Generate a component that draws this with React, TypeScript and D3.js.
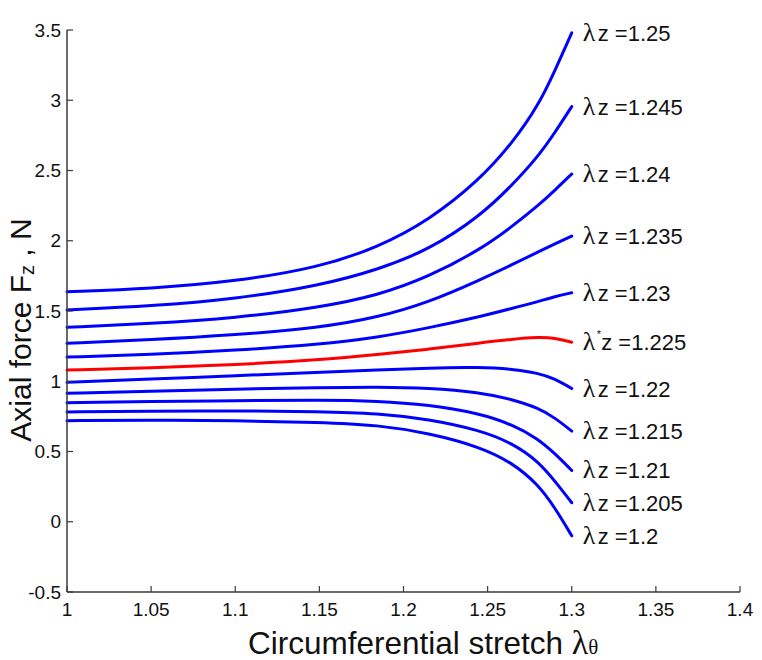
import React from "react";
import * as d3 from "d3";

// Circumferential stretch sample positions
const stretch = [1, 1.05, 1.1, 1.15, 1.185, 1.215, 1.245, 1.265, 1.28, 1.29, 1.3];

// Axial force (N) for each axial stretch
const force1250 = [1.637, 1.66, 1.71, 1.81, 1.955, 2.145, 2.43, 2.7, 2.96, 3.21, 3.48];
const force1245 = [1.507, 1.535, 1.585, 1.68, 1.795, 1.935, 2.17, 2.4, 2.6, 2.77, 2.955];
const force1240 = [1.384, 1.41, 1.45, 1.525, 1.612, 1.744, 1.932, 2.105, 2.25, 2.36, 2.475];
const force1235 = [1.27, 1.295, 1.33, 1.38, 1.455, 1.562, 1.718, 1.832, 1.92, 1.978, 2.033];
const force1230 = [1.172, 1.19, 1.22, 1.262, 1.313, 1.38, 1.458, 1.52, 1.567, 1.603, 1.63];
const force1225 = [1.08, 1.095, 1.118, 1.152, 1.19, 1.228, 1.272, 1.3, 1.314, 1.308, 1.278];
const force1220 = [0.992, 1.015, 1.04, 1.063, 1.08, 1.095, 1.1, 1.087, 1.058, 1.018, 0.948];
const force1215 = [0.914, 0.93, 0.944, 0.955, 0.96, 0.952, 0.922, 0.87, 0.81, 0.74, 0.645];
const force1210 = [0.847, 0.856, 0.862, 0.866, 0.86, 0.832, 0.772, 0.69, 0.59, 0.485, 0.365];
const force1205 = [0.781, 0.788, 0.79, 0.785, 0.772, 0.73, 0.653, 0.558, 0.43, 0.29, 0.135];
const force1200 = [0.719, 0.724, 0.72, 0.708, 0.689, 0.63, 0.535, 0.418, 0.265, 0.1, -0.1];

const lambdaZ = ["1.25", "1.245", "1.24", "1.235", "1.23", "1.225", "1.22", "1.215", "1.21", "1.205", "1.2"];
const seriesForces = [force1250, force1245, force1240, force1235, force1230, force1225, force1220, force1215, force1210, force1205, force1200];
const criticalIndex = 5;

const xTicks = [1, 1.05, 1.1, 1.15, 1.2, 1.25, 1.3, 1.35, 1.4];
const xTickLabels = ["1", "1.05", "1.1", "1.15", "1.2", "1.25", "1.3", "1.35", "1.4"];
const yTicks = [-0.5, 0, 0.5, 1, 1.5, 2, 2.5, 3, 3.5];
const yTickLabels = ["-0.5", "0", "0.5", "1", "1.5", "2", "2.5", "3", "3.5"];

const W = 762;
const H = 660;
const left = 67;
const right = 740;
const top = 30;
const bottom = 592;

const sans = "'Liberation Sans', Arial, sans-serif";
const serif = "'Liberation Serif', 'Times New Roman', serif";
const axisColor = "#3a3a3a";

export default function App() {
  const x = d3.scaleLinear().domain([1, 1.4]).range([left, right]);
  const y = d3.scaleLinear().domain([-0.5, 3.5]).range([bottom, top]);
  const line = d3
    .line<number>()
    .x((_, i) => x(stretch[i]))
    .y((d) => y(d))
    .curve(d3.curveBasis);

  return (
    <svg
      width={W}
      height={H}
      style={{ position: "absolute", left: 0, top: 0, background: "#fff" }}
    >
      {/* curves */}
      {seriesForces.map((f, i) => (
        <path
          key={lambdaZ[i]}
          d={line(f) || ""}
          fill="none"
          stroke={i === criticalIndex ? "#ff0000" : "#0000ff"}
          strokeWidth={3}
          strokeLinecap="round"
        />
      ))}

      {/* axes */}
      <line x1={left} y1={top} x2={left} y2={bottom} stroke={axisColor} strokeWidth={1.5} />
      <line x1={left} y1={bottom} x2={right} y2={bottom} stroke={axisColor} strokeWidth={1.5} />
      {yTicks.map((t, i) => (
        <g key={"y" + t}>
          <line x1={left} x2={left + 6} y1={y(t)} y2={y(t)} stroke={axisColor} strokeWidth={1.2} />
          <text
            x={left - 6}
            y={y(t)}
            textAnchor="end"
            dominantBaseline="central"
            fontFamily={sans}
            fontSize={19}
            fill="#111"
          >
            {yTickLabels[i]}
          </text>
        </g>
      ))}
      {xTicks.map((t, i) => (
        <g key={"x" + t}>
          <line x1={x(t)} x2={x(t)} y1={bottom} y2={bottom - 6} stroke={axisColor} strokeWidth={1.2} />
          <text
            x={x(t)}
            y={bottom + 24}
            textAnchor="middle"
            fontFamily={sans}
            fontSize={19}
            fill="#111"
          >
            {xTickLabels[i]}
          </text>
        </g>
      ))}

      {/* axis labels */}
      <text
        x={248}
        y={654}
        textAnchor="start"
        fontFamily={sans}
        fontSize={31.5}
        fill="#111"
      >
        Circumferential stretch{" "}
        <tspan fontFamily={serif} fontSize={34}>λ</tspan>
        <tspan fontFamily={serif} fontSize={21}>θ</tspan>
      </text>
      <text
        transform={`translate(31, 330) rotate(-90)`}
        textAnchor="middle"
        fontFamily={sans}
        fontSize={30}
        fill="#111"
      >
        Axial force F<tspan fontSize={20} dy={3}>z</tspan>
        <tspan dy={-3}> , N</tspan>
      </text>

      {/* right labels */}
      {seriesForces.map((f, i) => {
        const lx = x(1.3) + 11;
        const ly = y(f[f.length - 1]) + 8;
        const crit = i === criticalIndex;
        return (
          <g key={"lab" + lambdaZ[i]}>
            <text x={lx} y={ly} fontFamily={serif} fontSize={26} fill="#111">
              λ
            </text>
            {crit ? (
              <text x={lx + 14} y={ly - 12} fontFamily={sans} fontSize={11} fill="#111">
                *
              </text>
            ) : null}
            <text x={lx + (crit ? 18.5 : 15)} y={ly} fontFamily={sans} fontSize={22} fill="#111">
              {"z =" + lambdaZ[i]}
            </text>
          </g>
        );
      })}
    </svg>
  );
}
